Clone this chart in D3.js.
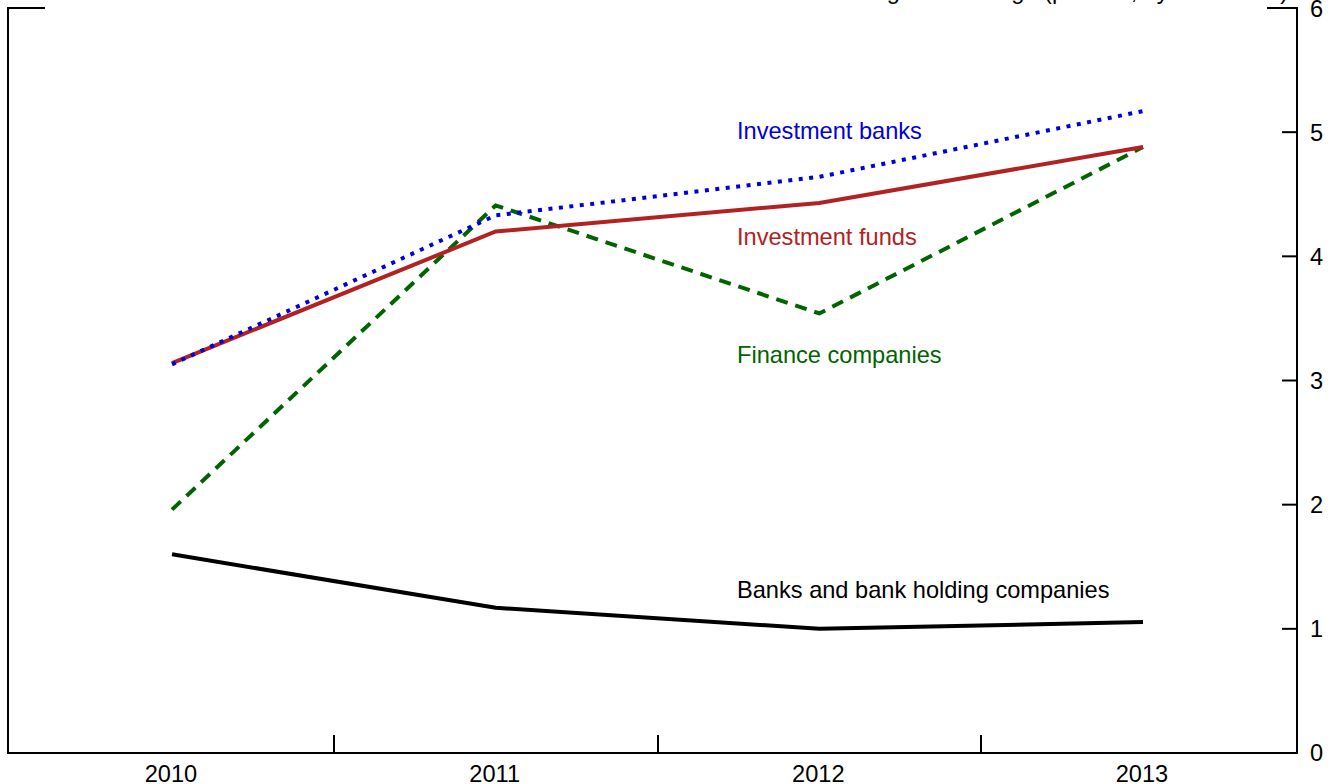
<!DOCTYPE html>
<html><head><meta charset="utf-8">
<script src="https://cdn.jsdelivr.net/npm/d3@7"></script>
<style>body{margin:0;background:#fff}svg{display:block}text{font-family:"Liberation Sans",Arial,sans-serif}</style>
</head><body><svg id="c" width="1335" height="784"></svg>
<script>
const years = [2010, 2011, 2012, 2013];
const banks = [1.60, 1.17, 1.00, 1.055];
const investmentFunds = [3.14, 4.20, 4.43, 4.88];
const investmentBanks = [3.13, 4.33, 4.64, 5.17];
const financeCompanies = [1.96, 4.41, 3.54, 4.88];
const yTicks = [0, 1, 2, 3, 4, 5, 6];
const unitsLabel = "Weighted average (percent, by asset size)";

const svg = d3.select("#c");
const x = d3.scaleLinear().domain([2010, 2013]).range([172, 1143]);
const y = d3.scaleLinear().domain([0, 6]).range([753, 8]);
const L = 8, R = 1297, FS = 23.6;

const series = [
  {name:"Banks and bank holding companies", v:banks, color:"#000000", dash:null, ly:598},
  {name:"Finance companies", v:financeCompanies, color:"#006400", dash:"12,8", ly:363},
  {name:"Investment funds", v:investmentFunds, color:"#b22222", dash:null, ly:245},
  {name:"Investment banks", v:investmentBanks, color:"#0000dd", dash:"4,6.5", ly:139}
];

const g = svg.append("g");
const ln = (x1,y1,x2,y2)=>g.append("line").attr("x1",x1).attr("y1",y1).attr("x2",x2).attr("y2",y2).attr("stroke","#000").attr("stroke-width",2);
ln(L,y(6)-1,L,y(0)+1);
ln(R,y(6)-1,R,y(0)+1);
ln(L,y(0),R,y(0));
ln(L-1,y(6),45,y(6));
ln(1267,y(6),R+1,y(6));

yTicks.filter(t=>t>0&&t<6).forEach(t=>ln(R-15,y(t),R,y(t)));
yTicks.forEach(t=>{
  g.append("text").attr("x",R+13).attr("y",y(t)).attr("dy","0.36em").attr("font-size",FS).text(t);
});

years.slice(0,-1).forEach(yr=>{
  const xx = Math.round(x(yr+0.5));
  ln(xx,y(0),xx,y(0)-18);
});
years.forEach(yr=>{
  g.append("text").attr("x",x(yr)-1).attr("y",782).attr("text-anchor","middle").attr("font-size",FS).text(yr);
});

g.append("text").attr("x",1288).attr("y",-1).attr("text-anchor","end").attr("font-size",FS).text(unitsLabel);

const line = d3.line().x((d,i)=>x(years[i])).y(d=>y(d));
series.forEach(s=>{
  const p = svg.append("path").datum(s.v).attr("d",line).attr("fill","none")
    .attr("stroke",s.color).attr("stroke-width",4);
  if(s.dash) p.attr("stroke-dasharray",s.dash);
  svg.append("text").attr("x",737).attr("y",s.ly).attr("font-size",FS).attr("fill",s.color).text(s.name);
});
</script></body></html>
